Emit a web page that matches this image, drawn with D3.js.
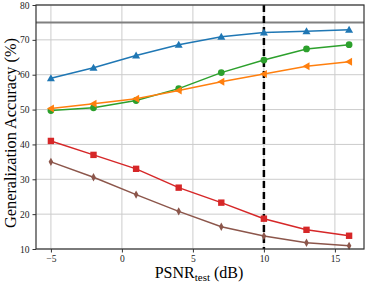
<!DOCTYPE html>
<html>
<head>
<meta charset="utf-8">
<script src="https://cdn.jsdelivr.net/npm/d3@7"></script>
<style>
body { margin: 0; background: #fff; }
</style>
</head>
<body>
<div id="svg-holder"></div>
<script>
var width = 366;
var height = 286;
var serif = '"Liberation Serif", "Times New Roman", Times, "DejaVu Serif", serif';

var snr = [-5, -2, 1, 4, 7, 10, 13, 16];
var blue = [59.0, 62.0, 65.5, 68.6, 70.9, 72.1, 72.5, 72.9];
var green = [49.7, 50.5, 52.6, 56.0, 60.6, 64.2, 67.4, 68.6];
var orange = [50.3, 51.7, 53.1, 55.5, 58.0, 60.2, 62.4, 63.7];
var red = [41.0, 37.0, 33.0, 27.6, 23.3, 18.7, 15.5, 13.8];
var brown = [35.0, 30.6, 25.6, 20.8, 16.4, 13.7, 11.8, 10.9];
var xTicks = [-5, 0, 5, 10, 15];
var yTicks = [10, 20, 30, 40, 50, 60, 70, 80];
var baseline = 75;
var marker = 10;

var series = [
    { values: blue, color: "#1f77b4", sym: "up" },
    { values: green, color: "#2ca02c", sym: "circle" },
    { values: orange, color: "#ff7f0e", sym: "left" },
    { values: red, color: "#d62728", sym: "square" },
    { values: brown, color: "#8c564b", sym: "diamond" }
];

var pl = 36, pr = 364, pt = 5, pb = 249;

var svg = d3.select('#svg-holder').append('svg')
    .attr("width", width)
    .attr("height", height)
    .attr("font-family", serif);

var x = d3.scaleLinear().domain([-6.05, 17.05]).range([pl, pr]);
var y = d3.scaleLinear().domain([10, 80]).range([pb, pt]);

// grid
svg.selectAll('.gx').data(xTicks).enter().append('line')
    .attr('x1', d => x(d)).attr('x2', d => x(d))
    .attr('y1', pt).attr('y2', pb)
    .attr('stroke', '#cccccc').attr('stroke-width', 1);
svg.selectAll('.gy').data(yTicks).enter().append('line')
    .attr('x1', pl).attr('x2', pr)
    .attr('y1', d => y(d)).attr('y2', d => y(d))
    .attr('stroke', '#cccccc').attr('stroke-width', 1);

// reference lines
svg.append('line')
    .attr('x1', pl).attr('x2', pr)
    .attr('y1', y(baseline)).attr('y2', y(baseline))
    .attr('stroke', '#808080').attr('stroke-width', 2);
svg.append('line')
    .attr('x1', x(marker)).attr('x2', x(marker))
    .attr('y1', pt).attr('y2', pb)
    .attr('stroke', '#000').attr('stroke-width', 2.5)
    .attr('stroke-dasharray', '7,4');

var line = d3.line()
    .x(function(d, i) { return x(snr[i]); })
    .y(function(d) { return y(d); });

function symPath(sym) {
    if (sym === "up") return "M0,-4L4,3L-4,3Z";
    if (sym === "left") return "M-4,0L3,-4L3,4Z";
    if (sym === "square") return "M-3.2,-3.2H3.2V3.2H-3.2Z";
    if (sym === "diamond") return "M0,-4.2L2.3,0L0,4.2L-2.3,0Z";
    return d3.symbol().type(d3.symbolCircle).size(36)();
}

series.forEach(function(s) {
    svg.append('path')
        .attr('d', line(s.values))
        .attr('fill', 'none')
        .attr('stroke', s.color)
        .attr('stroke-width', 1.5);
    svg.selectAll(null).data(s.values).enter().append('path')
        .attr('transform', function(d, i) { return "translate(" + x(snr[i]) + "," + y(d) + ")"; })
        .attr('d', symPath(s.sym))
        .attr('fill', s.color);
});

// frame
svg.append('rect')
    .attr('x', pl).attr('y', pt)
    .attr('width', pr - pl).attr('height', pb - pt)
    .attr('fill', 'none').attr('stroke', '#333').attr('stroke-width', 1.2);

// axes
var xAxis = svg.append('g')
    .attr('transform', 'translate(0,' + pb + ')')
    .call(d3.axisBottom(x).tickValues(xTicks).tickSize(3.5).tickPadding(2)
        .tickFormat(d => d < 0 ? "\u2212" + Math.abs(d) : d));
var yAxis = svg.append('g')
    .attr('transform', 'translate(' + pl + ',0)')
    .call(d3.axisLeft(y).tickValues(yTicks).tickSize(3.5));
[xAxis, yAxis].forEach(function(a) {
    a.attr('font-family', serif).attr('font-size', 9.5);
    a.select('.domain').remove();
    a.selectAll('text').attr('fill', '#222');
    a.selectAll('line').attr('stroke', '#333');
});
xAxis.selectAll('text').attr('dy', '0.8em');

var xl = svg.append('text')
    .attr('x', 199).attr('y', 278)
    .attr('text-anchor', 'middle')
    .attr('font-size', 16);
xl.append('tspan').text('PSNR');
xl.append('tspan').attr('dy', 3).attr('font-size', 11).text('test');
xl.append('tspan').attr('dy', -3).text(' (dB)');

svg.append('text')
    .attr('transform', 'translate(16,' + ((pt + pb) / 2 + 6) + ') rotate(-90)')
    .attr('text-anchor', 'middle')
    .attr('font-size', 16.3)
    .text('Generalization Accuracy (%)');
</script>
</body>
</html>
